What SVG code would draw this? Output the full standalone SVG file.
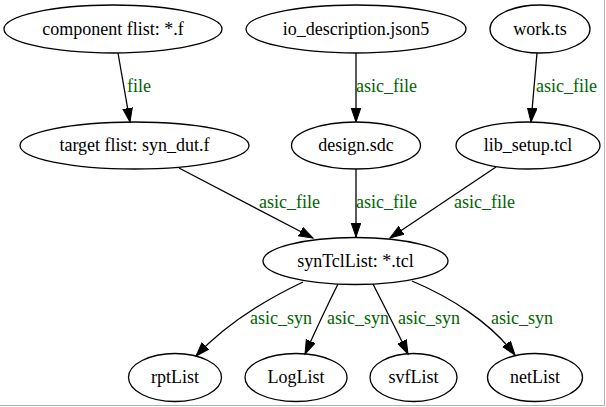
<svg xmlns="http://www.w3.org/2000/svg" width="606" height="407" viewBox="0 0 606 407">
<style>
.node ellipse{fill:none;stroke:#000;stroke-width:1.3}
.node text{font-family:"Liberation Serif","Times New Roman",serif;font-size:18px;fill:#000;text-anchor:middle}
.edges path{fill:none;stroke:#000;stroke-width:1.3;marker-end:url(#arr)}
.elabel{font-family:"Liberation Serif","Times New Roman",serif;font-size:18px;fill:#006400}
</style>
<defs>
<marker id="arr" markerUnits="userSpaceOnUse" markerWidth="16" markerHeight="12" refX="14" refY="5" orient="auto" viewBox="0 0 16 12">
<path d="M0,0.2 L14,5 L0,9.8 z" fill="#000" stroke="#000" stroke-width="1"/>
</marker>
</defs>
<rect x="0" y="0" width="606" height="407" fill="#fff"/>
<line x1="604.5" y1="0" x2="604.5" y2="406" stroke="#b4b4b4" stroke-width="1"/>
<line x1="0" y1="405.5" x2="605" y2="405.5" stroke="#b4b4b4" stroke-width="1"/>
<g class="edges">
<path d="M118,53 L130,122"/>
<path d="M356,53 L356,122"/>
<path d="M537,53 L531,122"/>
<path d="M179,168 L313,238"/>
<path d="M356,169 L356,237"/>
<path d="M496,167 L390,238"/>
<path d="M303,282 C265,300 225,325 196,356"/>
<path d="M338,284 C330,300 318,325 305,354"/>
<path d="M373,284 C381,300 394,325 408,354"/>
<path d="M412,281 C450,297 490,322 515,355"/>
<text class="elabel" x="127" y="92">file</text>
<text class="elabel" x="356" y="92">asic_file</text>
<text class="elabel" x="536" y="92">asic_file</text>
<text class="elabel" x="259" y="208">asic_file</text>
<text class="elabel" x="356" y="208">asic_file</text>
<text class="elabel" x="454" y="208">asic_file</text>
<text class="elabel" x="250" y="324">asic_syn</text>
<text class="elabel" x="327" y="324">asic_syn</text>
<text class="elabel" x="398" y="324">asic_syn</text>
<text class="elabel" x="491" y="324">asic_syn</text>
</g>
<g id="component" class="node"><ellipse cx="113" cy="29" rx="109" ry="24"/><text x="113" y="34.5">component flist: *.f</text></g>
<g id="io_description" class="node"><ellipse cx="356" cy="29" rx="110" ry="24"/><text x="356" y="34.5">io_description.json5</text></g>
<g id="work_ts" class="node"><ellipse cx="540" cy="29" rx="50" ry="24"/><text x="540" y="34.5">work.ts</text></g>
<g id="target" class="node"><ellipse cx="134.5" cy="145.5" rx="114.5" ry="23.5"/><text x="134.5" y="151">target flist: syn_dut.f</text></g>
<g id="design_sdc" class="node"><ellipse cx="356" cy="145.5" rx="64.5" ry="23.5"/><text x="356" y="151">design.sdc</text></g>
<g id="lib_setup" class="node"><ellipse cx="528" cy="145.5" rx="72" ry="23.5"/><text x="528" y="151">lib_setup.tcl</text></g>
<g id="synTclList" class="node"><ellipse cx="355.5" cy="261" rx="92.5" ry="23.5"/><text x="355.5" y="266.5">synTclList: *.tcl</text></g>
<g id="rptList" class="node"><ellipse cx="175" cy="377.5" rx="46.5" ry="24"/><text x="175" y="383">rptList</text></g>
<g id="LogList" class="node"><ellipse cx="296" cy="377.5" rx="51" ry="24"/><text x="296" y="383">LogList</text></g>
<g id="svfList" class="node"><ellipse cx="413.5" cy="377.5" rx="43.5" ry="24"/><text x="413.5" y="383">svfList</text></g>
<g id="netList" class="node"><ellipse cx="535" cy="377.5" rx="47.5" ry="24"/><text x="535" y="383">netList</text></g>
</svg>
